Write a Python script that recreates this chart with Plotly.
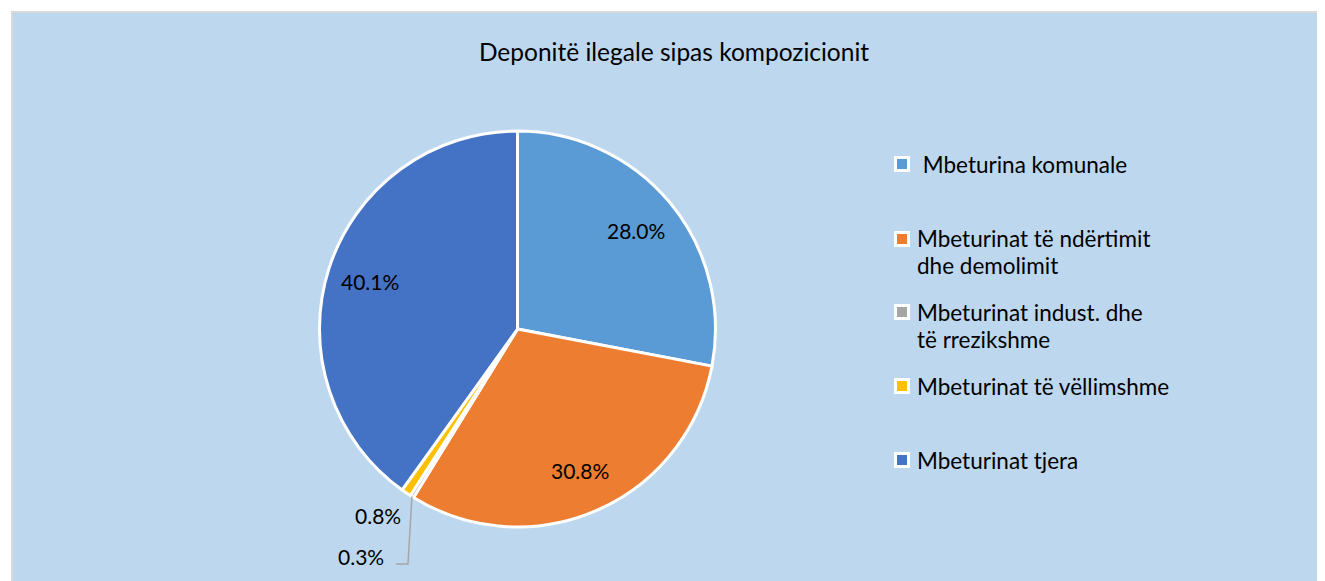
import math
import plotly.graph_objects as go

# target picture size and page offset (browser body margin)
W, H = 1325, 581
OFF = 8
FW, FH = W - OFF, H - OFF

labels = ["Mbeturina komunale", "Mbeturinat të ndërtimit dhe demolimit",
          "Mbeturinat indust. dhe të rrezikshme", "Mbeturinat të vëllimshme",
          "Mbeturinat tjera"]
legend_lines = [[" Mbeturina komunale"],
                ["Mbeturinat të ndërtimit", "dhe demolimit"],
                ["Mbeturinat indust. dhe", "të rrezikshme"],
                ["Mbeturinat të vëllimshme"],
                ["Mbeturinat tjera"]]
values = [28.0, 30.8, 0.3, 0.8, 40.1]
colors = ["#5B9BD5", "#ED7D31", "#A5A5A5", "#FFC000", "#4472C4"]
title = "Deponitë ilegale sipas kompozicionit"

FONT = "Lato"
FS_LABEL = 21
FS_LEG = 22.5
FS_TITLE = 24.5

# pie geometry (pixels in the final picture)
cx, cy, R = 517.5, 329.0, 198.0


def px(x):
    return (x - OFF) / FW


def py(y):
    return 1 - (y - OFF) / FH


fig = go.Figure()
fig.add_trace(go.Pie(
    labels=labels, values=values, sort=False, direction="clockwise",
    rotation=0,
    marker=dict(colors=colors, line=dict(color="white", width=3)),
    textinfo="none", hoverinfo="label+percent",
    domain=dict(x=[px(cx - R), px(cx + R)], y=[py(cy + R), py(cy - R)]),
    showlegend=False,
))

total = sum(values)
mids = []
cum = 0.0
for v in values:
    mids.append((cum + v / 2) / total * 2 * math.pi)
    cum += v

annotations = []


def add_text(x, y, txt, size, xanchor="center"):
    annotations.append(dict(x=px(x), y=py(y), xref="paper", yref="paper",
                            text=txt, showarrow=False, xanchor=xanchor,
                            yanchor="middle",
                            font=dict(family=FONT, size=size, color="#000000")))


# inside data labels
for i, v in enumerate(values):
    if v >= 5:
        r = 0.78 * R
        add_text(cx + r * math.sin(mids[i]), cy - r * math.cos(mids[i]),
                 f"{v / total * 100:.1f}%", FS_LABEL)

# outside labels for small slices
add_text(378, 515, f"{values[3] / total * 100:.1f}%", FS_LABEL)
add_text(361, 556, f"{values[2] / total * 100:.1f}%", FS_LABEL)
ex = cx + R * math.sin(mids[2])
ey = cy - R * math.cos(mids[2])

shapes = [
    dict(type="rect", xref="paper", yref="paper", x0=px(12), x1=1.02,
         y0=-0.02, y1=py(12), fillcolor="#BDD7EE",
         line=dict(color="#D9D9D9", width=2), layer="below"),
    dict(type="path", xref="paper", yref="paper",
         path=f"M {px(ex)} {py(ey)} L {px(408)} {py(564)} L {px(396)} {py(564)}",
         line=dict(color="#A6A6A6", width=1.5)),
]

# legend (drawn as layout text + symbols)
leg_y = [164, 239, 312, 386, 460]
leg_sym_x = 902
leg_text_x = 915
line_gap = 27
for i, lines in enumerate(legend_lines):
    y0 = leg_y[i]
    shapes.append(dict(type="rect", xref="paper", yref="paper",
                       x0=px(leg_sym_x - 6.5), x1=px(leg_sym_x + 6.5),
                       y0=py(y0 + 6.5), y1=py(y0 - 6.5),
                       fillcolor=colors[i], line=dict(color="white", width=3)))
    for j, ln in enumerate(lines):
        add_text(leg_text_x, y0 + j * line_gap, ln, FS_LEG, xanchor="left")

fig.update_layout(
    width=FW, height=FH,
    margin=dict(l=0, r=0, t=0, b=0),
    paper_bgcolor="white", plot_bgcolor="white",
    title=dict(text=title, x=px(674), xanchor="center", y=py(52),
               yanchor="middle",
               font=dict(family=FONT, size=FS_TITLE, color="#000000")),
    font=dict(family=FONT, size=FS_LABEL, color="#000000"),
    showlegend=False,
    shapes=shapes,
    annotations=annotations,
)

fig.write_html("out.html")
